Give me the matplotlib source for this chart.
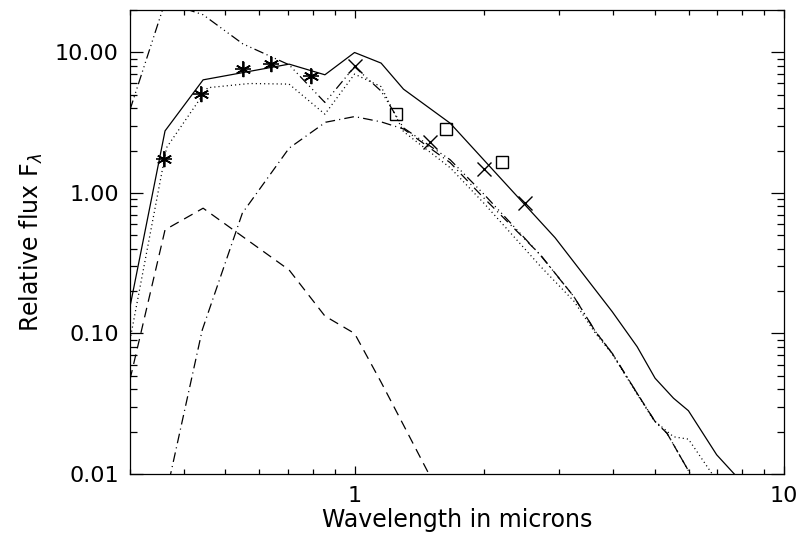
import numpy as np
import matplotlib
matplotlib.use('Agg')
import matplotlib.pyplot as plt
from matplotlib.ticker import FixedLocator, FixedFormatter, NullFormatter

plt.rcParams['font.family'] = 'DejaVu Sans'
plt.rcParams['lines.scale_dashes'] = False

# total model (solid)
tot_x = [0.30, 0.362, 0.444, 0.704, 0.853, 1.0, 1.153, 1.30, 1.67, 2.93, 3.98, 4.55, 5.01, 5.53, 5.99, 6.97, 7.66]
tot_y = [0.155, 2.76, 6.37, 8.24, 6.92, 9.97, 8.38, 5.47, 3.13, 0.48, 0.143, 0.0805, 0.048, 0.0346, 0.0282, 0.0137, 0.01]

# dotted model
dot_x = [0.30, 0.365, 0.455, 0.57, 0.704, 0.853, 1.0, 1.153, 1.30, 1.67, 2.0, 2.71, 3.24, 3.64, 3.98, 4.55, 4.97, 5.53, 5.99, 6.79]
dot_y = [0.09, 2.1, 5.6, 6.0, 5.94, 3.63, 7.0, 5.7, 2.73, 1.51, 0.845, 0.30, 0.17, 0.100, 0.0715, 0.037, 0.0242, 0.0184, 0.0177, 0.0101]

# hot component (dash-dot-dot-dot)
hot_x = [0.30, 0.362, 0.444, 0.549, 0.704, 0.853, 1.0, 1.153, 1.30, 1.67, 2.0, 2.71, 3.24, 3.64, 3.98, 4.55, 5.01, 5.34, 6.04]
hot_y = [3.9, 22.8, 18.5, 11.5, 8.15, 4.4, 7.9, 5.3, 2.9, 1.72, 0.98, 0.36, 0.183, 0.103, 0.0723, 0.0375, 0.0236, 0.0195, 0.0101]

# blue component (dashed)
blue_x = [0.30, 0.362, 0.444, 0.704, 0.853, 1.0, 1.153, 1.30, 1.49, 1.67]
blue_y = [0.047, 0.546, 0.778, 0.283, 0.133, 0.100, 0.045, 0.0223, 0.01, 0.0051]

# cool component (dash-dot)
cool_x = [0.362, 0.442, 0.548, 0.704, 0.856, 1.0, 1.153, 1.30, 1.67, 2.0, 2.71, 3.24, 3.64, 3.98, 4.55, 5.01, 5.34, 6.04]
cool_y = [0.0066, 0.106, 0.718, 2.08, 3.18, 3.49, 3.2, 2.85, 1.64, 0.92, 0.362, 0.183, 0.103, 0.0723, 0.0375, 0.0236, 0.0195, 0.0101]

# observations
star_x = [0.36, 0.44, 0.55, 0.64, 0.79]
star_y = [1.75, 5.05, 7.63, 8.24, 6.81]
cross_x = [1.0, 1.5, 2.0, 2.5]
cross_y = [8.0, 2.32, 1.47, 0.853]
sq_x = [1.25, 1.63, 2.2]
sq_y = [3.65, 2.84, 1.67]

fig = plt.figure(figsize=(8.01, 5.49), dpi=100)
ax = fig.add_axes([130/801, 75/549, 654/801, 464/549])

lw = 0.9
ax.plot(tot_x, tot_y, color='black', lw=lw)
ax.plot(dot_x, dot_y, color='black', lw=lw, dashes=(0.8, 2.2))
ax.plot(hot_x, hot_y, color='black', lw=lw, dashes=(7, 2.5, 0.8, 2.5, 0.8, 2.5, 0.8, 2.5))
ax.plot(blue_x, blue_y, color='black', lw=lw, dashes=(7, 4.5))
ax.plot(cool_x, cool_y, color='black', lw=lw, dashes=(7, 3, 0.8, 3))

ax.plot(star_x, star_y, ls='none', marker=(6, 2, 0), ms=11, mew=1.2, color='black')
ax.plot(star_x, star_y, ls='none', marker='+', ms=11, mew=1.2, color='black')
ax.plot(cross_x, cross_y, ls='none', marker='x', ms=10, mew=1.0, color='black')
ax.plot(sq_x, sq_y, ls='none', marker='s', ms=9, mew=1.0, mfc='none', mec='black')

ax.set_xscale('log')
ax.set_yscale('log')
ax.set_xlim(0.3, 10)
ax.set_ylim(0.01, 20)

ax.xaxis.set_major_locator(FixedLocator([1, 10]))
ax.xaxis.set_major_formatter(FixedFormatter(['1', '10']))
ax.xaxis.set_minor_locator(FixedLocator([0.3, 0.4, 0.5, 0.6, 0.7, 0.8, 0.9, 2, 3, 4, 5, 6, 7, 8, 9]))
ax.xaxis.set_minor_formatter(NullFormatter())
ax.yaxis.set_major_locator(FixedLocator([0.01, 0.1, 1, 10]))
ax.yaxis.set_major_formatter(FixedFormatter(['0.01', '0.10', '1.00', '10.00']))
ax.yaxis.set_minor_locator(FixedLocator([m * d for d in (0.01, 0.1, 1, 10) for m in range(2, 10)]))
ax.yaxis.set_minor_formatter(NullFormatter())

ax.tick_params(axis='both', which='both', direction='in', top=True, right=True, width=0.9, labelsize=16)
ax.tick_params(axis='x', which='major', length=6, pad=9)
ax.tick_params(axis='x', which='minor', length=3.5)
ax.tick_params(axis='y', which='major', length=9.5, pad=8)
ax.tick_params(axis='y', which='minor', length=5)
for s in ax.spines.values():
    s.set_linewidth(0.9)

ax.set_xlabel('Wavelength in microns', fontsize=17, labelpad=1)
ax.set_ylabel(r'Relative flux F$_\lambda$', fontsize=17, labelpad=7)

fig.savefig('out.png', dpi=100)
